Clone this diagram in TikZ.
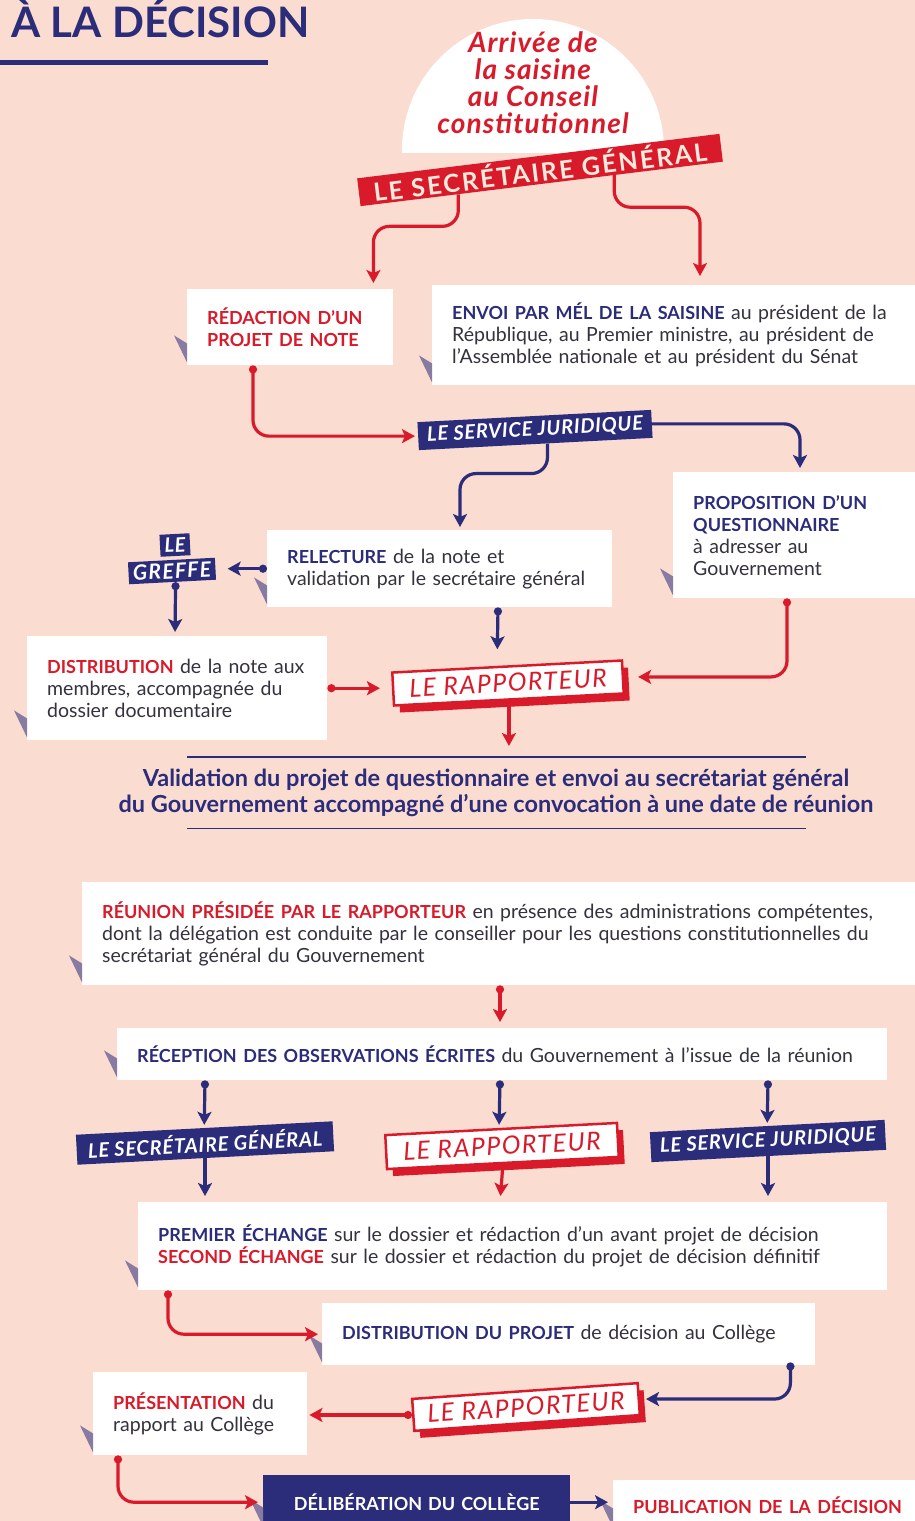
\documentclass[tikz,border=0pt]{standalone}
\usepackage{fontspec}
\setmainfont{Lato}
\usepackage{xcolor}
\usetikzlibrary{positioning,calc,arrows.meta,shadows}
\definecolor{fond}{HTML}{FADCD0}
\definecolor{rouge}{HTML}{D91A2A}
\definecolor{bleu}{HTML}{2B2C7A}
\definecolor{encre}{HTML}{35313D}
\definecolor{creme}{HTML}{FCEBDD}
\newcommand{\capbleu}[1]{{\color{bleu}\fontsize{18}{22}\selectfont\bfseries #1}}
\newcommand{\caprouge}[1]{{\color{rouge}\fontsize{18}{22}\selectfont\bfseries #1}}

\begin{document}
\begin{tikzpicture}[x=1pt, y=-1pt,
    every node/.style={font=\fontsize{19.5}{22}\selectfont, text=encre},
    boite/.style={fill=white, anchor=north west, align=left, inner xsep=20pt, inner ysep=0pt},
    bandeau/.style={fill=bleu, text=white, inner sep=0pt, rotate=3,
        font=\fontsize{20}{20}\selectfont\bfseries\itshape\addfontfeature{LetterSpace=4}},
    bandeau rouge/.style={bandeau, fill=rouge, text=creme, rotate=4,
        font=\fontsize{25}{25}\selectfont\bfseries\addfontfeature{LetterSpace=9}},
    rapporteur/.style={fill=white, draw=rouge, line width=2.5pt, text=rouge, inner sep=0pt, rotate=3,
        font=\fontsize{25}{25}\selectfont\itshape\addfontfeature{LetterSpace=6},
        drop shadow={shadow xshift=6pt, shadow yshift=-7pt, fill=rouge, opacity=1}},
    ombre/.style={fill=bleu!55!fond},
    fleche/.style={line width=3.2pt, rounded corners=16pt, -{Stealth[length=13pt, width=14pt, inset=3pt]}},
    frouge/.style={fleche, rouge},
    fbleu/.style={fleche, bleu},
    point/.style={{Circle[length=8pt]}-{Stealth[length=13pt, width=14pt, inset=3pt]}}]

    \useasboundingbox[fill=fond] (0,0) rectangle (915,1521);

    % titre
    \node[anchor=base west, text=bleu, font=\fontsize{42}{42}\selectfont\bfseries] (titre) at (8,37) {À LA DÉCISION};
    \draw[bleu, line width=5pt] (0,62) -- (268,62);

    % saisine
    \begin{scope}
        \clip (0,0) rectangle (915,152);
        \fill[white] (533,150) circle[radius=131pt];
    \end{scope}
    \node[align=center, text=rouge, font=\fontsize{28}{27}\selectfont\bfseries\itshape\addfontfeature{LetterSpace=4}] (arrivee) at (533,83)
        {Arrivée de\\la saisine\\au Conseil\\constitutionnel};
    \node[bandeau rouge, minimum width=365pt, minimum height=28pt] (sg) at (540,170) {LE SECRÉTAIRE GÉNÉRAL};

    % premiere etape
    \node[boite, text width=166pt, minimum height=76pt] (redac) at (187,289)
        {\caprouge{RÉDACTION D’UN\\PROJET DE NOTE}};
    \node[boite, text width=455pt, minimum height=100pt] (envoi) at (432,285)
        {\capbleu{ENVOI PAR MÉL DE LA SAISINE} au président de la\\République, au Premier ministre, au président de\\l’Assemblée nationale et au président du Sénat};
    \node[bandeau, minimum width=234pt, minimum height=28pt] (sj1) at (535,430) {LE SERVICE JURIDIQUE};
    \node[boite, text width=210pt, minimum height=126pt] (prop) at (673,472)
        {\capbleu{PROPOSITION D’UN\\QUESTIONNAIRE}\\à adresser au\\Gouvernement};
    \node[boite, text width=305pt, minimum height=77pt] (relec) at (267,530)
        {\capbleu{RELECTURE} de la note et\\validation par le secrétaire général};
    \node[bandeau, minimum width=30pt, minimum height=22pt] (le) at (175,545) {LE};
    \node[bandeau, minimum width=87pt, minimum height=22pt,
        font=\fontsize{21}{21}\selectfont\bfseries\itshape\addfontfeature{LetterSpace=6}] (greffe) at (172,571) {GREFFE};
    \node[boite, text width=260pt, minimum height=104pt] (distrib) at (27,636)
        {\caprouge{DISTRIBUTION} de la note aux\\membres, accompagnée du\\dossier documentaire};
    \node[rapporteur, minimum width=230pt, minimum height=33pt] (rap1) at (508,683) {LE RAPPORTEUR};
    \node[anchor=north, align=center, minimum height=71pt, inner sep=0pt, text=bleu,
        font=\fontsize{23.5}{26}\selectfont\bfseries] (valid) at (496,757)
        {Validation du projet de questionnaire et envoi au secrétariat général\\du Gouvernement accompagné d’une convocation à une date de réunion};
    \draw[bleu, line width=1.3pt] ($(valid.north)+(-309,0)$) -- ($(valid.north)+(310,0)$);
    \draw[bleu, line width=1.3pt] ($(valid.south)+(-309,0)$) -- ($(valid.south)+(310,0)$);

    % deuxieme etape
    \node[boite, text width=810pt, minimum height=103pt] (reunion) at (82,882)
        {\caprouge{RÉUNION PRÉSIDÉE PAR LE RAPPORTEUR} en présence des administrations compétentes,\\dont la délégation est conduite par le conseiller pour les questions constitutionnelles du\\secrétariat général du Gouvernement};
    \node[boite, text width=730pt, minimum height=52pt] (recep) at (117,1028)
        {\capbleu{RÉCEPTION DES OBSERVATIONS ÉCRITES} du Gouvernement à l’issue de la réunion};
    \node[bandeau, minimum width=257pt, minimum height=30pt] (sg2) at (205,1143) {LE SECRÉTAIRE GÉNÉRAL};
    \node[rapporteur, minimum width=232pt, minimum height=34pt] (rap2) at (502,1146) {LE RAPPORTEUR};
    \node[bandeau, minimum width=235pt, minimum height=30pt] (sj2) at (768,1141) {LE SERVICE JURIDIQUE};
    \node[boite, text width=709pt, minimum height=88pt] (echange) at (138,1202)
        {\capbleu{PREMIER ÉCHANGE} sur le dossier et rédaction d’un avant projet de décision\\\caprouge{SECOND ÉCHANGE} sur le dossier et rédaction du projet de décision définitif};
    \node[boite, text width=453pt, minimum height=62pt] (distproj) at (322,1303)
        {\capbleu{DISTRIBUTION DU PROJET} de décision au Collège};
    \node[rapporteur, minimum width=226pt, minimum height=32pt, rotate=1] (rap3) at (526,1407) {LE RAPPORTEUR};
    \node[boite, text width=174pt, minimum height=83pt] (present) at (93,1372)
        {\caprouge{PRÉSENTATION} du\\rapport au Collège};
    \node[boite, fill=bleu, text=white, font=\fontsize{18}{22}\selectfont\bfseries, text width=267pt,
        minimum height=54pt, align=center] (delib) at (263,1475) {DÉLIBÉRATION DU COLLÈGE};
    \node[boite, text width=300pt, minimum height=50pt] (publi) at (613,1480)
        {\caprouge{PUBLICATION DE LA DÉCISION}};

    % ombres des boites
    \foreach \b in {redac,envoi,prop,relec,distrib,reunion,recep,echange,distproj,present,delib,publi}
        \fill[ombre] ($(\b.south west)+(0,-3)$) -- ++(-13,-27) -- ++(13,8) -- cycle;

    % liaisons
    \draw[frouge, shorten >=6pt] ($(sg.south west)!0.27!(sg.south east)$) -- ++(0,32) -| ($(redac.north east)+(-20,0)$);
    \draw[frouge, shorten >=9pt] ($(sg.south west)!0.70!(sg.south east)$) -- ++(0,32) -| ($(envoi.north west)+(268,0)$);
    \draw[frouge, point, shorten >=3pt] ($(redac.south west)+(66,0)$) |- (sj1.west);
    \draw[fbleu, shorten >=4pt] (sj1.east) -| ($(prop.north west)+(127,0)$);
    \draw[fbleu, shorten >=3pt] ($(sj1.south west)!0.55!(sj1.south east)$) -- ++(0,30) -| ($(relec.north west)+(193,0)$);
    \draw[fbleu, point, shorten >=12pt] (relec.west) -- (relec.west -| greffe.east);
    \draw[fbleu, point, shorten >=4pt] ($(greffe.south)+(3,0)$) -- ($(distrib.north west)+(148,0)$);
    \draw[fbleu, point, shorten >=16pt] ($(relec.south west)+(231,0)$) -- ($(rap1.north)+(-10,0)$);
    \draw[frouge, point, shorten >=12pt] (distrib.east) -- (distrib.east -| rap1.west);
    \draw[frouge, point, shorten >=14pt] ($(prop.south west)+(114,0)$) |- (rap1.east);
    \draw[frouge, shorten >=11pt] (rap1.south) -- (rap1.south |- valid.north);
    \draw[frouge, point, shorten >=6pt] ($(reunion.south west)+(418,0)$) -- ($(recep.north west)+(383,0)$);
    \draw[fbleu, point, shorten >=3pt] ($(recep.south west)+(88,0)$) -- (sg2.north);
    \draw[fbleu, point, shorten >=3pt] ($(recep.south west)+(383,0)$) -- ($(rap2.north)+(-2,0)$);
    \draw[fbleu, point, shorten >=3pt] ($(recep.south west)+(651,0)$) -- (sj2.north);
    \draw[fbleu, shorten >=6pt] (sg2.center) -- ($(echange.north west)+(67,0)$);
    \draw[frouge, shorten >=6pt] (rap2.south) -- ($(echange.north west)+(362,0)$);
    \draw[fbleu, shorten >=6pt] (sj2.center) -- ($(echange.north west)+(630,0)$);
    \draw[frouge, point, shorten >=4pt] ($(echange.south west)+(30,0)$) |- (distproj.west);
    \draw[fbleu, point, shorten >=6pt] ($(distproj.south east)+(-25,-3)$) |- (rap3.east);
    \draw[frouge, point, shorten >=2pt] (rap3.west) -- (rap3.west -| present.east);
    \draw[frouge, point, shorten >=5pt] ($(present.south west)+(25,0)$) |- (delib.west);
    \draw[fbleu, shorten >=5pt] (delib.east) -- (delib.east -| publi.west);
\end{tikzpicture}
\end{document}
